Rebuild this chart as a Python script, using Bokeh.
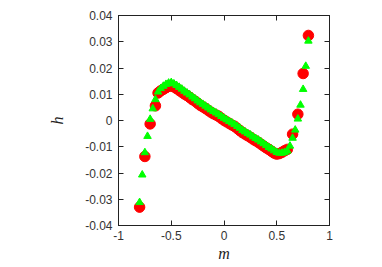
from bokeh.plotting import figure
from bokeh.models import FixedTicker, PrintfTickFormatter, LinearAxis, Range1d, CustomLabelingPolicy
from bokeh.embed import file_html
from bokeh.resources import INLINE

# red circles (m, h)
m_red = [-0.80, -0.75, -0.70, -0.65,
         -0.625, -0.60, -0.575, -0.55, -0.525, -0.50, -0.475, -0.45, -0.425, -0.40,
         -0.375, -0.35, -0.325, -0.30, -0.275, -0.25, -0.225, -0.20, -0.175, -0.15,
         -0.125, -0.10, -0.075, -0.05, -0.025, 0.0, 0.025, 0.05, 0.075, 0.10,
         0.125, 0.15, 0.175, 0.20, 0.225, 0.25, 0.275, 0.30, 0.325, 0.35,
         0.375, 0.40, 0.425, 0.45, 0.475, 0.50, 0.525, 0.55, 0.575, 0.60,
         0.65, 0.70, 0.75, 0.80]
h_red = [-0.0330, -0.0137, -0.0013, 0.0056,
         0.0105, 0.0113, 0.0119, 0.0125, 0.0130, 0.0132, 0.0128, 0.0122, 0.0115, 0.0108,
         0.0101, 0.0095, 0.0088, 0.0080, 0.0074, 0.0066, 0.0058, 0.0052, 0.0046, 0.0039,
         0.0032, 0.0026, 0.0021, 0.0016, 0.0008, 0.0001, -0.0005, -0.0011, -0.0017, -0.0022,
         -0.0030, -0.0038, -0.0046, -0.0052, -0.0058, -0.0064, -0.0071, -0.0077, -0.0083, -0.0090,
         -0.0097, -0.0104, -0.0110, -0.0117, -0.0124, -0.0128, -0.0126, -0.0121, -0.0115, -0.0110,
         -0.0052, 0.0024, 0.0179, 0.0324]

# green triangles (m, h)
m_green = [-0.80, -0.775, -0.75, -0.725, -0.70, -0.675, -0.65,
           -0.625, -0.60, -0.575, -0.55, -0.525, -0.50, -0.475, -0.45, -0.425, -0.40,
           -0.375, -0.35, -0.325, -0.30, -0.275, -0.25, -0.225, -0.20, -0.175, -0.15,
           -0.125, -0.10, -0.075, -0.05, -0.025, 0.0, 0.025, 0.05, 0.075, 0.10,
           0.125, 0.15, 0.175, 0.20, 0.225, 0.25, 0.275, 0.30, 0.325, 0.35,
           0.375, 0.40, 0.425, 0.45, 0.475, 0.50, 0.525, 0.55, 0.575, 0.60,
           0.625, 0.65, 0.675, 0.70, 0.725, 0.75, 0.775, 0.80]
h_green = [-0.0312, -0.0207, -0.0122, -0.0060, 0.0005, 0.0045, 0.0080,
           0.0109, 0.0122, 0.0131, 0.0138, 0.0143, 0.0145, 0.0140, 0.0134, 0.0127, 0.0120,
           0.0112, 0.0105, 0.0098, 0.0090, 0.0083, 0.0075, 0.0068, 0.0062, 0.0055, 0.0048,
           0.0041, 0.0035, 0.0029, 0.0023, 0.0016, 0.0009, 0.0003, -0.0003, -0.0009, -0.0015,
           -0.0022, -0.0029, -0.0037, -0.0043, -0.0049, -0.0055, -0.0062, -0.0068, -0.0074, -0.0081,
           -0.0088, -0.0095, -0.0102, -0.0108, -0.0115, -0.0121, -0.0124, -0.0124, -0.0121, -0.0116,
           -0.0097, -0.0067, -0.0036, 0.0006, 0.0059, 0.0119, 0.0207, 0.0303]

x_ticks = [-1, -0.5, 0, 0.5, 1]
y_ticks = [-0.04, -0.03, -0.02, -0.01, 0, 0.01, 0.02, 0.03, 0.04]

p = figure(width=374, height=264, output_backend="svg", toolbar_location=None,
           x_range=Range1d(-1, 1), y_range=Range1d(-0.04, 0.04),
           min_border_left=118, min_border_right=45, min_border_top=15, min_border_bottom=30)
p.grid.visible = False
p.outline_line_color = "#222222"
p.outline_line_width = 1
p.background_fill_color = "white"
p.border_fill_color = "white"

font = "Liberation Sans"
for ax in [p.xaxis[0], p.yaxis[0]]:
    ax.major_tick_in = 5
    ax.major_tick_out = 0
    ax.minor_tick_in = 0
    ax.minor_tick_out = 0
    ax.major_label_text_font = font
    ax.major_label_text_font_size = "12px"
    ax.major_label_text_color = "#333333"
    ax.axis_line_color = "#222222"
    ax.major_tick_line_color = "#222222"
    ax.axis_label_text_font = "Liberation Serif"
    ax.axis_label_text_font_style = "italic"
    ax.axis_label_text_font_size = "16px"
    ax.axis_label_text_color = "#222222"

p.xaxis[0].ticker = FixedTicker(ticks=x_ticks)
p.yaxis[0].ticker = FixedTicker(ticks=y_ticks)
p.xaxis[0].formatter = PrintfTickFormatter(format="%g")
p.yaxis[0].formatter = PrintfTickFormatter(format="%g")
p.xaxis[0].axis_label = "m"
p.yaxis[0].axis_label = "h"
p.xaxis[0].major_label_standoff = 5
p.xaxis[0].axis_label_standoff = 2
p.yaxis[0].major_label_standoff = 6
p.yaxis[0].axis_label_standoff = 16

# mirror ticks on top and right (no labels)
no_labels = CustomLabelingPolicy(code="return new Set()")
top = LinearAxis(ticker=FixedTicker(ticks=x_ticks), major_label_policy=no_labels,
                 major_tick_in=5, major_tick_out=0, minor_tick_in=0, minor_tick_out=0,
                 major_label_standoff=0, axis_line_color="#222222", major_tick_line_color="#222222")
right = LinearAxis(ticker=FixedTicker(ticks=y_ticks), major_label_policy=CustomLabelingPolicy(code="return new Set()"),
                   major_tick_in=5, major_tick_out=0, minor_tick_in=0, minor_tick_out=0,
                   major_label_standoff=0, axis_line_color="#222222", major_tick_line_color="#222222")
p.add_layout(top, "above")
p.add_layout(right, "right")

p.scatter(m_red, h_red, marker="circle", size=10.5, fill_color="#ff0000", line_color="#ff0000")
p.scatter(m_green, h_green, marker="triangle", size=7.5, fill_color="#00ff00", line_color="#00ff00")

open("out.html", "w").write(file_html(p, INLINE))
